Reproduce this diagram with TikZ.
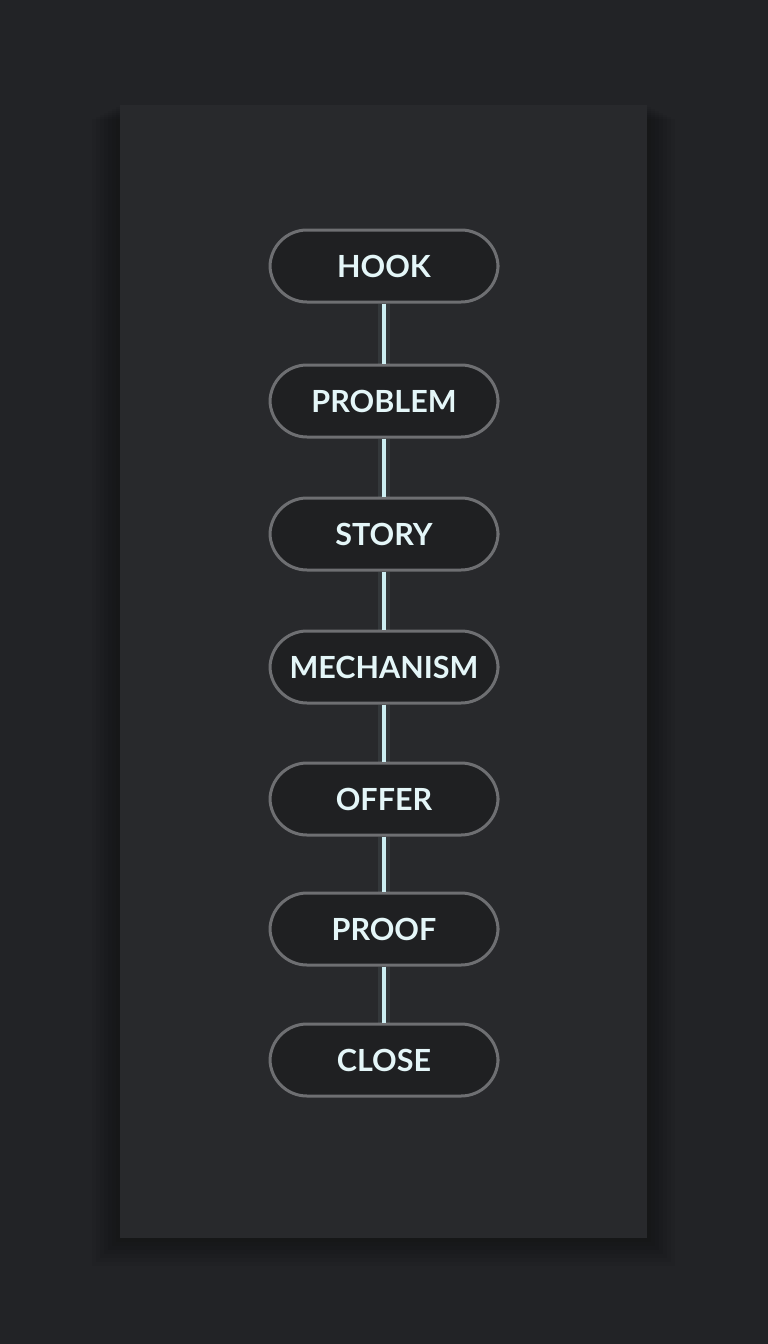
\documentclass[tikz,border=0pt]{standalone}
\usepackage{fontspec}
\setmainfont{Lato}[UprightFont=* Bold]
\definecolor{bgdark}{HTML}{222326}
\definecolor{paneldark}{HTML}{28292C}
\definecolor{pillfill}{HTML}{1F2022}
\definecolor{pillrim}{HTML}{6E6F72}
\definecolor{glowline}{HTML}{CDEFF3}
\definecolor{labeltext}{HTML}{E4F6F8}
\tikzset{
  stage/.style={draw=pillrim, line width=3pt, fill=pillfill, rounded corners=37pt,
    minimum width=228pt, minimum height=72pt, inner sep=0pt,
    text=labeltext, font=\fontsize{30.5}{30.5}\selectfont},
  link/.style={draw=glowline, line width=3.5pt},
  linkglow/.style={draw=glowline, line width=12pt, opacity=0.08}
}
\begin{document}
\begin{tikzpicture}[x=1pt,y=-1pt]
  \fill[bgdark] (0,0) rectangle (768,1344);
  \useasboundingbox (0,0) rectangle (768,1344);
  % soft shadow under the panel
  \foreach \s in {4,8,...,28}
    \fill[black, opacity=0.04] (120-\s,105+0.5*\s) rectangle (647+\s,1238+\s);
  \fill[paneldark] (120,105) rectangle (647,1238);

  % stages
  \foreach \name/\txt/\y in {hook/HOOK/266, problem/PROBLEM/401, story/STORY/534,
      mechanism/MECHANISM/667, offer/OFFER/799, proof/PROOF/929, close/CLOSE/1060}
    \node[stage] (\name) at (384,\y) {\txt};

  % connectors
  \foreach \a/\b in {hook/problem, problem/story, story/mechanism,
      mechanism/offer, offer/proof, proof/close} {
    \draw[linkglow] (\a.south) -- (\b.north);
    \draw[link] (\a.south) -- (\b.north);
  }
\end{tikzpicture}
\end{document}
